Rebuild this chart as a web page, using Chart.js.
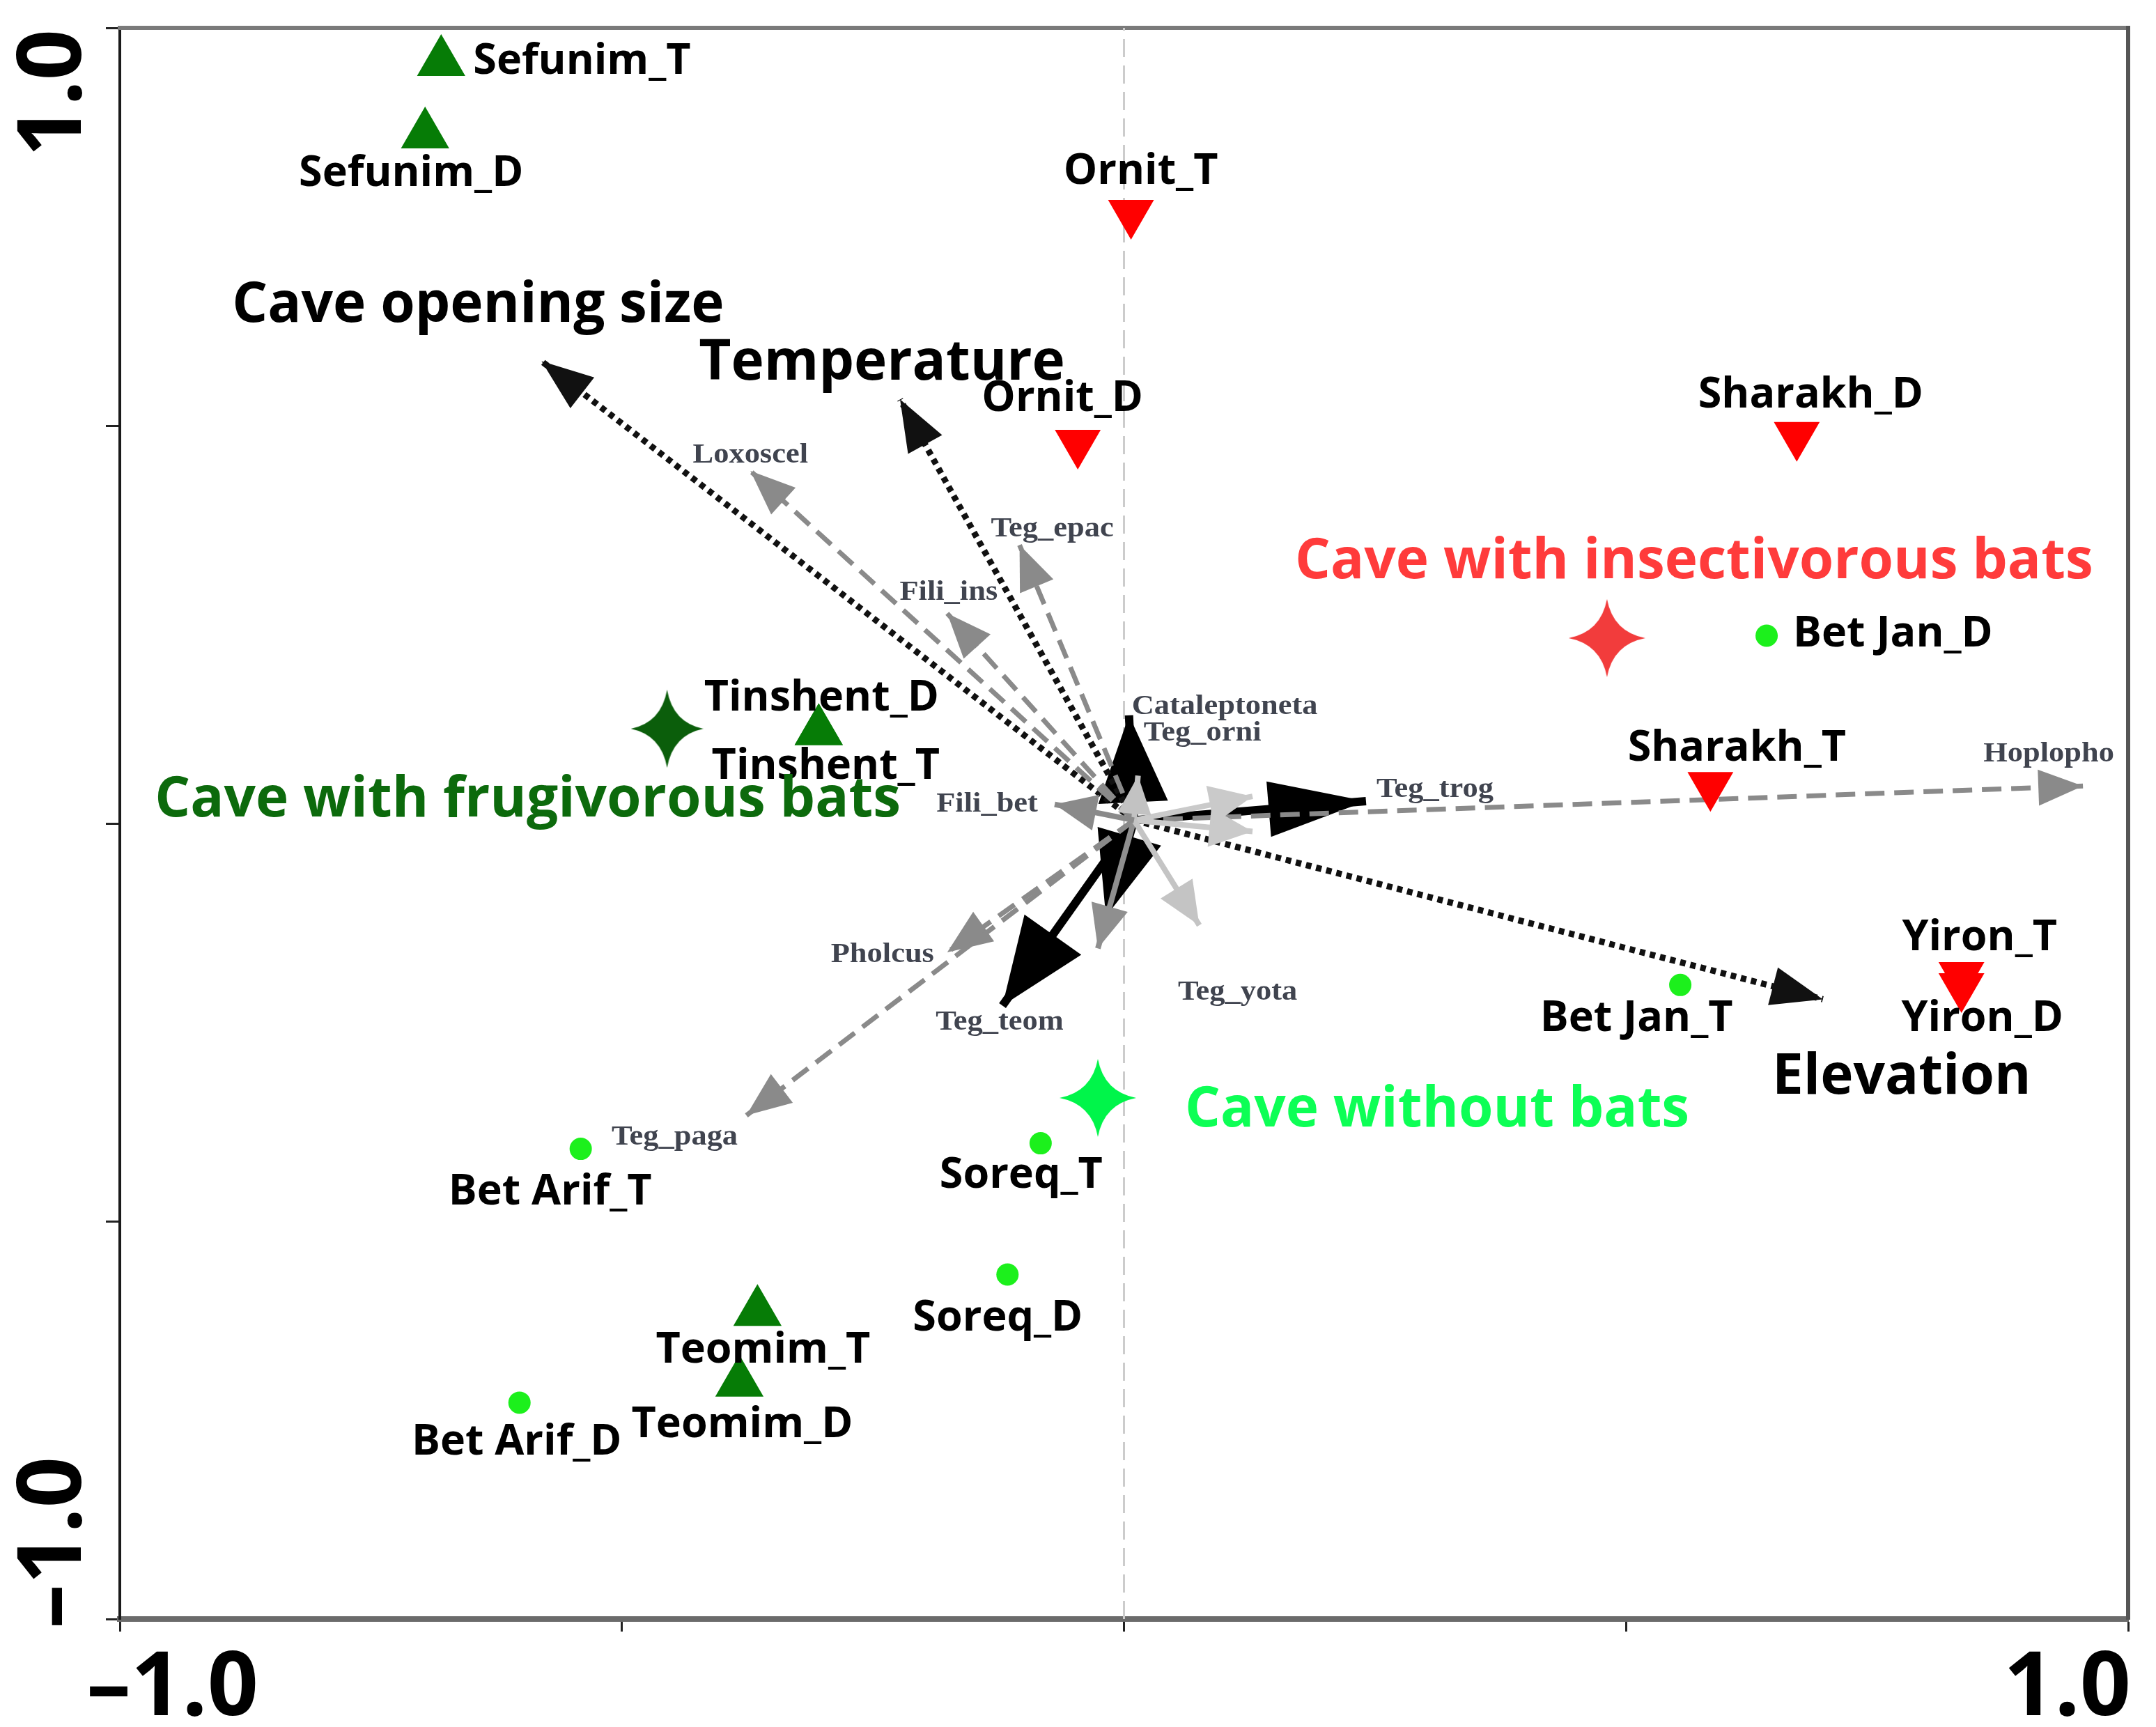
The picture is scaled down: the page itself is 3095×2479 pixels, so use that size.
<!DOCTYPE html>
<html>
<head>
<meta charset="utf-8">
<title>CCA biplot - cave spiders</title>
<script src="https://cdn.jsdelivr.net/npm/chart.js@4.4.1/dist/chart.umd.min.js"></script>
<style>
  html, body { margin: 0; padding: 0; background: #fff; }
  canvas { display: block; }
</style>
</head>
<body>
<canvas id="ccaChart" width="3095" height="2479"></canvas>
<script>
// Axis ticks
const tickValues = [-1, -0.5, 0, 0.5, 1];
const xTickLabels = ['–1.0', '1.0'];
const yTickLabels = ['–1.0', '1.0'];

// Sites: caves with frugivorous bats
const fruitSites = ['Sefunim_T', 'Sefunim_D', 'Tinshent_D', 'Tinshent_T', 'Teomim_T', 'Teomim_D'];
const fruitX = [-0.680, -0.696, -0.304, -0.304, -0.365, -0.383];
const fruitY = [0.957, 0.866, 0.116, 0.116, -0.614, -0.703];

// Sites: caves with insectivorous bats
const insectSites = ['Ornit_T', 'Ornit_D', 'Sharakh_D', 'Sharakh_T', 'Yiron_T', 'Yiron_D'];
const insectX = [0.007, -0.046, 0.670, 0.584, 0.834, 0.834];
const insectY = [0.767, 0.478, 0.488, 0.048, -0.191, -0.205];

// Sites: caves without bats
const noBatSites = ['Bet Jan_D', 'Bet Jan_T', 'Bet Arif_T', 'Bet Arif_D', 'Soreq_T', 'Soreq_D'];
const noBatX = [0.640, 0.554, -0.541, -0.602, -0.083, -0.116];
const noBatY = [0.236, -0.203, -0.409, -0.728, -0.402, -0.567];

// Group centroids
const groupNames = ['Cave with frugivorous bats', 'Cave with insectivorous bats', 'Cave without bats'];
const groupX = [-0.455, 0.481, -0.026];
const groupY = [0.119, 0.233, -0.345];

// Biplot arrows
const arrowOrigin = [0.010, 0.004];

const envNames = ['Cave opening size', 'Temperature', 'Elevation'];
const envX = [-0.580, -0.223, 0.696];
const envY = [0.581, 0.533, -0.221];

const speciesNames = ['Loxoscel', 'Teg_epac', 'Fili_ins', 'Hoplopho', 'Teg_paga', 'Pholcus'];
const speciesX = [-0.372, -0.104, -0.176, 0.955, -0.376, -0.176];
const speciesY = [0.443, 0.350, 0.264, 0.047, -0.367, -0.162];

const strongNames = ['Cataleptoneta', 'Teg_trog', 'Teg_teom', ''];
const strongX = [0.005, 0.241, -0.121, -0.018];
const strongY = [0.136, 0.028, -0.229, -0.117];

const weakNames = ['Fili_bet', 'Teg_yota', 'Teg_orni', '', '', ''];
const weakX = [-0.069, 0.075, 0.014, -0.026, 0.128, 0.128];
const weakY = [0.024, -0.128, 0.060, -0.157, 0.034, -0.010];

// ---- Layout / styles (pixels) ----
const SITE_FONT = 'bold 61px "Open Sans"';
const BIG_FONT = 'bold 80px "Open Sans"';
const SPECIES_FONT = 'bold 39px "Liberation Serif"';
const TICK_FONT = 'bold 128px "Open Sans"';

const fruitLabelPos = [[46, 0, 'left'], [-20, 57], [4, -47], [10, 51], [8, 55], [4, 61]];
const insectLabelPos = [[14, -59], [-22, -63], [20, -57], [38, -53], [26, -53], [30, 47]];
const noBatLabelPos = [[38, -2, 'left'], [-63, 49], [-44, 63], [-4, 57], [-28, 47], [-14, 63]];
const groupLabelPos = [[-200, 103], [125, -109], [125, 18, 'left']];
const groupColors = ['#0c6a0c', '#ff3b3b', '#0dff55'];
const groupStarColors = ['#0b5e0b', '#f23c3c', '#00f54a'];

const envLabelPos = [[-91, -79], [-26, -51], [113, 113]];
const envHeads = [[74, 56], [74, 56], [74, 56]];
const speciesLabelPos = [[0, -22], [47, -22], [2, -30], [-49, -45], [-103, 32], [-93, 4]];
const speciesHeads = [[64, 52], [64, 52], [64, 52], [64, 52], [64, 52], [64, 52]];
const strongLabelPos = [[4, -12, 'left'], [99, -16], [-4, 24], [0, 0]];
const strongHeads = [[125, 100], [140, 80], [125, 100], [120, 95]];
const weakLabelPos = [[-97, 0], [55, 97], [8, -61, 'left'], [0, 0], [0, 0], [0, 0]];
const weakHeads = [[60, 52], [62, 54], [55, 48], [62, 54], [62, 56], [62, 56]];
const weakColors = ['#8a8a8a', '#c4c4c4', '#c2c2c2', '#8f8f8f', '#cacaca', '#cacaca'];

// Four-pointed star used for group centroids
function makeSparkle(w, h, color) {
    const c = document.createElement('canvas');
    c.width = w;
    c.height = h;
    const g = c.getContext('2d');
    const rx = w / 2, ry = h / 2, k = 0.16;
    g.translate(rx, ry);
    g.beginPath();
    g.moveTo(0, -ry);
    g.quadraticCurveTo(rx * k, -ry * k, rx, 0);
    g.quadraticCurveTo(rx * k, ry * k, 0, ry);
    g.quadraticCurveTo(-rx * k, ry * k, -rx, 0);
    g.quadraticCurveTo(-rx * k, -ry * k, 0, -ry);
    g.closePath();
    g.fillStyle = color;
    g.fill();
    return c;
}

function toPoints(xs, ys) {
    return xs.map((x, i) => ({ x: x, y: ys[i] }));
}

function siteSet(names, xs, ys, labelPos, style) {
    return Object.assign({
        data: toPoints(xs, ys),
        labels: names,
        labelPos: labelPos,
        labelStyle: { font: SITE_FONT, color: '#000' },
        pointBorderWidth: 0,
        order: 1
    }, style);
}

function arrowSets(names, xs, ys, heads, labelPos, style, labelStyle) {
    return names.map((name, i) => ({
        data: [{ x: arrowOrigin[0], y: arrowOrigin[1] }, { x: xs[i], y: ys[i] }],
        showLine: true,
        pointRadius: 0,
        borderColor: style.colors ? style.colors[i] : style.color,
        borderWidth: style.width,
        borderDash: style.dash,
        borderCapStyle: 'butt',
        head: { len: heads[i][0], width: heads[i][1], color: style.colors ? style.colors[i] : (style.headColor || style.color) },
        labels: [null, name],
        labelPos: [null, labelPos[i]],
        labelStyle: labelStyle,
        order: 5
    }));
}

const speciesLabelStyle = { font: SPECIES_FONT, color: '#40444f', stretch: 1.14 };

const datasets = [
    // x = 0 reference line
    {
        data: [{ x: 0, y: -1 }, { x: 0, y: 1 }],
        showLine: true,
        pointRadius: 0,
        borderColor: '#cccccc',
        borderWidth: 3,
        borderDash: [26, 12],
        order: 10
    },
    ...arrowSets(weakNames, weakX, weakY, weakHeads, weakLabelPos,
        { colors: weakColors, width: 8, dash: [] }, speciesLabelStyle),
    ...arrowSets(speciesNames, speciesX, speciesY, speciesHeads, speciesLabelPos,
        { color: '#8a8a8a', width: 7, dash: [28, 14] }, speciesLabelStyle),
    ...arrowSets(envNames, envX, envY, envHeads, envLabelPos,
        { color: '#111', width: 9, dash: [8, 7] }, { font: BIG_FONT, color: '#000' }),
    ...arrowSets(strongNames, strongX, strongY, strongHeads, strongLabelPos,
        { color: '#000', width: 12, dash: [] }, speciesLabelStyle),
    siteSet(fruitSites, fruitX, fruitY, fruitLabelPos,
        { pointStyle: 'triangle', pointRadius: 40, pointBackgroundColor: '#067c06' }),
    siteSet(insectSites, insectX, insectY, insectLabelPos,
        { pointStyle: 'triangle', rotation: 180, pointRadius: 38, pointBackgroundColor: '#ff0000' }),
    siteSet(noBatSites, noBatX, noBatY, noBatLabelPos,
        { pointStyle: 'circle', pointRadius: 16, pointBackgroundColor: '#1cf01c' })
];

groupNames.forEach((name, i) => {
    datasets.push({
        data: [{ x: groupX[i], y: groupY[i] }],
        pointStyle: makeSparkle(i === 0 ? 104 : 110, 112, groupStarColors[i]),
        pointRadius: 20,
        labels: [name],
        labelPos: [groupLabelPos[i]],
        labelStyle: { font: BIG_FONT, color: groupColors[i] },
        order: 0
    });
});

// Draw arrow heads right after each arrow line
const arrowHeads = {
    id: 'arrowHeads',
    afterDatasetDraw(chart, args) {
        const ds = chart.data.datasets[args.index];
        if (!ds.head) return;
        const a = args.meta.data[0];
        const b = args.meta.data[1];
        const ang = Math.atan2(b.y - a.y, b.x - a.x);
        const ctx = chart.ctx;
        ctx.save();
        ctx.translate(b.x, b.y);
        ctx.rotate(ang);
        ctx.beginPath();
        ctx.moveTo(0, 0);
        ctx.lineTo(-ds.head.len, -ds.head.width / 2);
        ctx.lineTo(-ds.head.len, ds.head.width / 2);
        ctx.closePath();
        ctx.fillStyle = ds.head.color;
        ctx.fill();
        ctx.restore();
    }
};

// Point / arrow labels
const textLabels = {
    id: 'textLabels',
    afterDatasetsDraw(chart) {
        const ctx = chart.ctx;
        chart.data.datasets.forEach((ds, i) => {
            if (!ds.labels) return;
            const meta = chart.getDatasetMeta(i);
            ds.labels.forEach((text, j) => {
                if (!text) return;
                const p = meta.data[j];
                const pos = ds.labelPos[j];
                const st = ds.labelStyle;
                ctx.save();
                ctx.font = st.font;
                ctx.fillStyle = st.color;
                ctx.textBaseline = 'middle';
                ctx.textAlign = pos[2] || 'center';
                ctx.translate(p.x + pos[0], p.y + pos[1]);
                if (st.stretch) ctx.scale(st.stretch, 1);
                ctx.fillText(text, 0, 0);
                ctx.restore();
            });
        });
    }
};

// Tick labels at the axis ends
const endTickLabels = {
    id: 'endTickLabels',
    afterDraw(chart) {
        const ctx = chart.ctx;
        const xs = chart.scales.x;
        const ys = chart.scales.y;
        const area = chart.chartArea;
        ctx.save();
        ctx.font = TICK_FONT;
        ctx.fillStyle = '#000';
        ctx.textBaseline = 'alphabetic';
        const base = area.bottom + 138;
        ctx.textAlign = 'left';
        ctx.fillText(xTickLabels[0], xs.getPixelForValue(-1) - 48, base);
        ctx.textAlign = 'right';
        ctx.fillText(xTickLabels[1], xs.getPixelForValue(1) + 4, base);

        const bx = 116;
        ctx.save();
        ctx.translate(bx, ys.getPixelForValue(-1) + 14);
        ctx.rotate(-Math.PI / 2);
        ctx.textAlign = 'left';
        ctx.fillText(yTickLabels[0], 0, 0);
        ctx.restore();
        ctx.save();
        ctx.translate(bx, ys.getPixelForValue(1) + 2);
        ctx.rotate(-Math.PI / 2);
        ctx.textAlign = 'right';
        ctx.fillText(yTickLabels[1], 0, 0);
        ctx.restore();
        ctx.restore();
    }
};

function tickSetup(scale) {
    scale.ticks = tickValues.map(v => ({ value: v }));
}

new Chart(document.getElementById('ccaChart'), {
    type: 'scatter',
    data: { datasets: datasets },
    options: {
        responsive: false,
        devicePixelRatio: 1,
        animation: false,
        events: [],
        layout: { padding: 0 },
        plugins: {
            legend: { display: false },
            tooltip: { enabled: false }
        },
        scales: {
            x: {
                type: 'linear',
                position: 'bottom',
                min: -1,
                max: 1,
                afterBuildTicks: tickSetup,
                ticks: { display: false },
                grid: { display: true, drawOnChartArea: false, drawTicks: true, tickLength: 18, tickColor: '#222', tickWidth: 3 },
                border: { display: true, color: '#6b6b6b', width: 8 },
                afterFit: s => { s.height = 155; }
            },
            y: {
                type: 'linear',
                position: 'left',
                min: -1,
                max: 1,
                afterBuildTicks: tickSetup,
                ticks: { display: false },
                grid: { display: true, drawOnChartArea: false, drawTicks: true, tickLength: 20, tickColor: '#222', tickWidth: 3 },
                border: { display: true, color: '#1a1a1a', width: 4 },
                afterFit: s => { s.width = 172; }
            },
            xTop: {
                type: 'linear',
                position: 'top',
                min: -1,
                max: 1,
                ticks: { display: false },
                grid: { display: false },
                border: { display: true, color: '#7a7a7a', width: 6 },
                afterFit: s => { s.height = 30; }
            },
            yRight: {
                type: 'linear',
                position: 'right',
                min: -1,
                max: 1,
                ticks: { display: false },
                grid: { display: false },
                border: { display: true, color: '#555', width: 6 },
                afterFit: s => { s.width = 19; }
            }
        }
    },
    plugins: [arrowHeads, textLabels, endTickLabels]
});
</script>
</body>
</html>
